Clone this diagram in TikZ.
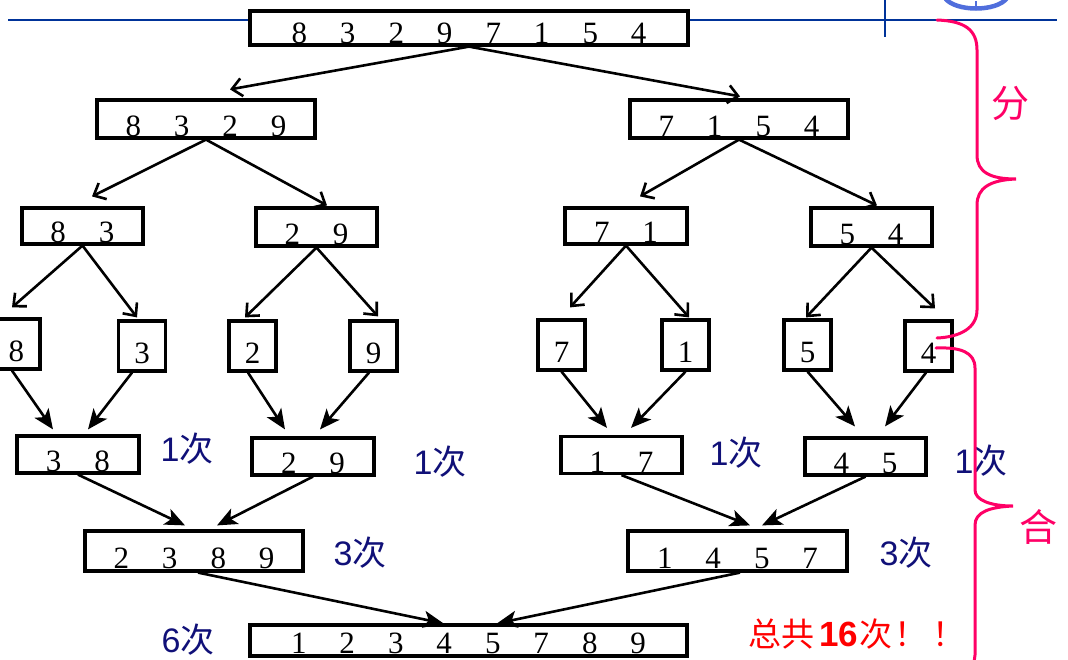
\documentclass[tikz,border=0pt]{standalone}
\usepackage{fontspec}
\setmainfont{Liberation Serif}
\newfontfamily\cjkf{Noto Sans CJK SC}
\newfontfamily\lsans{Liberation Sans}
\usetikzlibrary{arrows.meta,calc}
\newcommand\dg[1]{\makebox[48.5pt]{#1}}
\definecolor{cnavy}{RGB}{16,16,120}
\definecolor{cmag}{RGB}{255,0,102}
\definecolor{cline}{RGB}{0,51,153}
\definecolor{clogo}{RGB}{80,110,220}
\begin{document}
\begin{tikzpicture}[x=1pt,y=-1pt,
 bx/.style n args={3}{draw, line width=3.2pt, fill=white, inner sep=0pt, minimum width=#1, text height=#2, text depth=#3, font=\fontsize{31}{31}\selectfont},
 split/.style={line width=2.6pt, -{Straight Barb[length=10pt,width=18pt]}},
 merge/.style={line width=2.6pt, -{Stealth[length=20pt,width=17pt,inset=5pt]}},
 cnt/.style={text=cnavy, font=\fontsize{34}{34}\selectfont, inner sep=0pt},
 side/.style={text=cmag, font=\cjkf\fontsize{38}{38}\selectfont, inner sep=0pt},
 brace/.style={draw=cmag, line width=3pt, line cap=round},
 ]
\useasboundingbox (0,0) rectangle (1068,659);
\clip (0,0) rectangle (1068,659);

% header decoration
\draw[cline, line width=2.5pt] (8,20) -- (1057,20);
\draw[cline, line width=2.5pt] (885,0) -- (885,37);
\draw[clogo, line width=4.5pt] (945,-2) .. controls (955,12) and (997,12) .. (1007,-2);
\draw[clogo, line width=1.5pt] (976,1) -- (976,6);

% boxes
\node[bx={438pt}{32.5pt}{1.5pt}] (t) at (469,28) {\dg8\dg3\dg2\dg9\dg7\dg1\dg5\dg4};

\node[bx={218pt}{36.5pt}{1.5pt}] (a) at (206,119) {\dg8\dg3\dg2\dg9};
\node[bx={218pt}{36.5pt}{1.5pt}] (b) at (739,119) {\dg7\dg1\dg5\dg4};

\node[bx={121pt}{34.5pt}{1.5pt}] (aa) at (82.5,226) {\dg8\dg3};
\node[bx={121pt}{36.5pt}{1.5pt}] (ab) at (316.5,227) {\dg2\dg9};
\node[bx={122pt}{34.5pt}{1.5pt}] (ba) at (626,226) {\dg7\dg1};
\node[bx={121pt}{36.5pt}{1.5pt}] (bb) at (871.5,227) {\dg5\dg4};

\node[bx={47pt}{42pt}{8pt}] (s8) at (16.5,344) {8};
\node[bx={47pt}{42pt}{8pt}] (s3) at (142,346) {3};
\node[bx={47pt}{42pt}{8pt}] (s2) at (252.5,346) {2};
\node[bx={47pt}{42pt}{8pt}] (s9) at (373.5,346) {9};
\node[bx={47pt}{42pt}{8pt}] (s7) at (561.5,345) {7};
\node[bx={47pt}{42pt}{8pt}] (s1) at (685.5,345) {1};
\node[bx={47pt}{42pt}{8pt}] (s5) at (807.5,345) {5};
\node[bx={47pt}{42pt}{8pt}] (s4) at (928.5,346) {4};

\node[bx={122pt}{35.5pt}{1.5pt}] (m1) at (78,454.5) {\dg3\dg8};
\node[bx={122pt}{35.5pt}{1.5pt}] (m2) at (313,456.5) {\dg2\dg9};
\node[bx={121pt}{35.5pt}{1.5pt}] (m3) at (621.5,455) {\dg1\dg7};
\node[bx={121pt}{35.5pt}{1.5pt}] (m4) at (865.5,456.5) {\dg4\dg5};

\node[bx={218pt}{37pt}{3pt}] (n1) at (194,551) {\dg2\dg3\dg8\dg9};
\node[bx={219pt}{37pt}{3pt}] (n2) at (737.5,551) {\dg1\dg4\dg5\dg7};

\node[bx={437pt}{28pt}{3pt}] (f) at (468.5,640.5) {\dg1\dg2\dg3\dg4\dg5\dg7\dg8\dg9};

% split arrows
\draw[split] (t.south) -- ($(a.north)+(24,-9)$);
\draw[split] (t.south) -- ($(b.north)+(1,-2)$);
\draw[split] (a.south) -- ($(aa.north)+(9.5,-10)$);
\draw[split] (a.south) -- ($(ab.north)+(10.5,-1)$);
\draw[split] (b.south) -- ($(ba.north)+(14,-10)$);
\draw[split] (b.south) -- ($(bb.north)+(5.5,-1)$);
\draw[split] (aa.south) -- ($(s8.north)+(-4.5,-10)$);
\draw[split] (aa.south) -- ($(s3.north)+(-5,-2)$);
\draw[split] (ab.south) -- ($(s2.north)+(-7.5,-2)$);
\draw[split] (ab.south) -- ($(s9.north)+(4.5,-3)$);
\draw[split] (ba.south) -- ($(s7.north)+(8.5,-11)$);
\draw[split] (ba.south) -- ($(s1.north)+(3.5,-1)$);
\draw[split] (bb.south) -- ($(s5.north)+(-1.5,-1)$);
\draw[split] (bb.south) -- ($(s4.north)+(6.5,-11)$);

% merge arrows
\draw[merge] ($(s8.south)+(-4.5,0)$) -- ($(m1.north)+(-25,-5)$);
\draw[merge] ($(s3.south)+(-10,0)$) -- ($(m1.north)+(10,-5)$);
\draw[merge] ($(s2.south)+(-4.5,0)$) -- ($(m2.north)+(-28,-7)$);
\draw[merge] ($(s9.south)+(-4.5,0)$) -- ($(m2.north)+(7,-7)$);
\draw[merge] (s7.south) -- ($(m3.north)+(-14.5,-7)$);
\draw[merge] (s1.south) -- ($(m3.north)+(9.5,-7)$);
\draw[merge] (s5.south) -- ($(m4.north)+(-10.5,-10)$);
\draw[merge] ($(s4.south)+(-2.5,0)$) -- ($(m4.north)+(19.5,-10)$);

\draw[merge] (m1.south) -- ($(n1.north)+(-9,-4)$);
\draw[merge] (m2.south) -- ($(n1.north)+(23,-4)$);
\draw[merge] (m3.south) -- ($(n2.north)+(12.5,-4)$);
\draw[merge] (m4.south) -- ($(n2.north)+(24.5,-4)$);

\draw[merge] ($(n1.south)+(4,0)$) -- ($(f.north)+(-25,0)$);
\draw[merge] ($(n2.south)+(2.5,0)$) -- ($(f.north)+(28.5,0)$);

% counts
\node[cnt] (c1) at (187,449) {{\lsans 1}{\cjkf 次}};
\node[cnt] (c2) at (440,462) {{\lsans 1}{\cjkf 次}};
\node[cnt] (c3) at (736,453) {{\lsans 1}{\cjkf 次}};
\node[cnt] (c4) at (981,461) {{\lsans 1}{\cjkf 次}};
\node[cnt] (c5) at (360,553) {{\lsans 3}{\cjkf 次}};
\node[cnt] (c6) at (906,553) {{\lsans 3}{\cjkf 次}};
\node[cnt] (c7) at (188,640) {{\lsans 6}{\cjkf 次}};
\node[text=red, inner sep=0pt, anchor=west, font=\fontsize{33}{33}\selectfont] (tot) at (748,634) {{\cjkf 总共}\hspace{5pt}{\lsans\bfseries\fontsize{35}{35}\selectfont 16}\hspace{1pt}{\cjkf 次}\makebox[38pt][c]{\cjkf ！}\makebox[38pt][c]{\cjkf ！}};

% braces
\draw[brace] (937,20) .. controls (965,21) and (977,30) .. (977,50) -- (977,155)
  .. controls (977,172) and (990,179) .. (1016,179)
  .. controls (990,180) and (977,188) .. (977,205) -- (977,310)
  .. controls (977,328) and (960,337) .. (937,338);
\draw[brace] (936,348) .. controls (960,347) and (975,352) .. (975,368) -- (975,490)
  .. controls (975,500) and (990,506) .. (1013,506)
  .. controls (990,507) and (975,512) .. (975,525) -- (975,655)
  .. controls (975,670) and (960,680) .. (936,680);
\node[side] (fen) at (1010,103) {分};
\node[side] (he) at (1038,527) {合};
\end{tikzpicture}
\end{document}
